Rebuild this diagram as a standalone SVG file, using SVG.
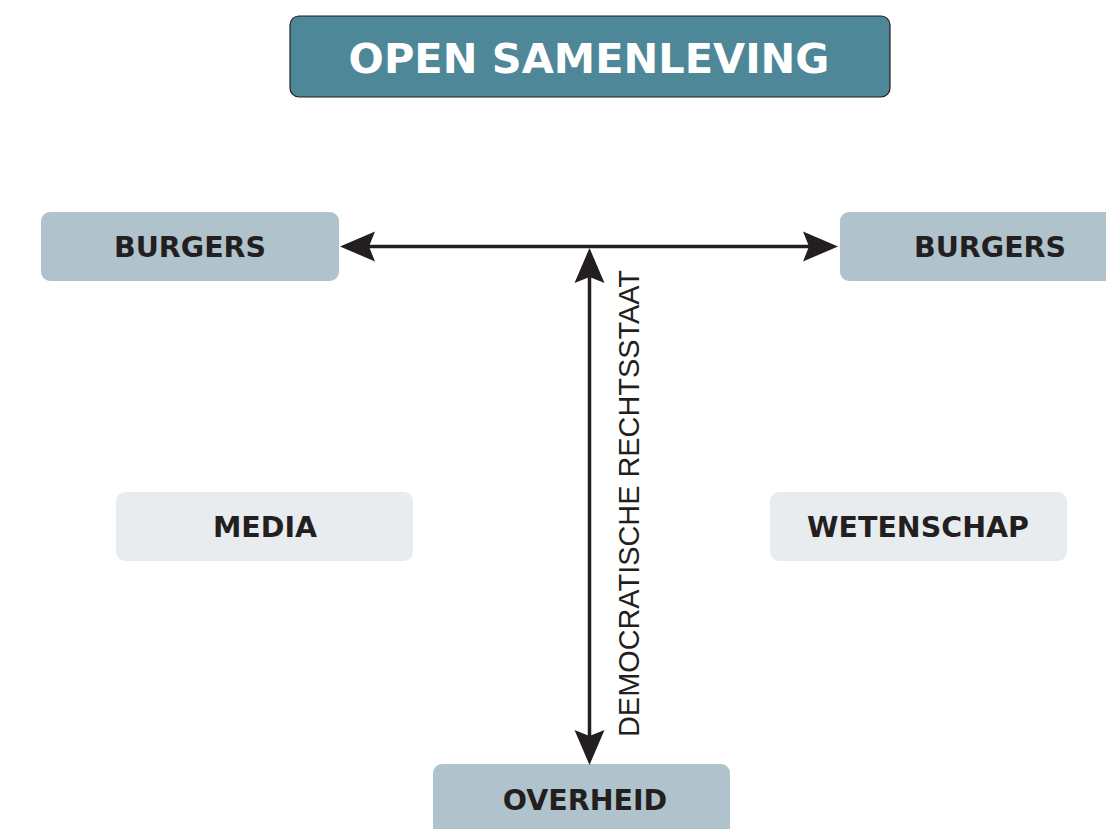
<svg xmlns="http://www.w3.org/2000/svg" width="1106" height="829" viewBox="0 0 1106 829">
  <style>
    .lbl { font-family: "DejaVu Sans", Verdana, sans-serif; font-weight: bold; font-size: 28.5px; fill: #231f20; text-anchor: middle; }
    .title { font-family: "DejaVu Sans", Verdana, sans-serif; font-weight: bold; font-size: 41.5px; fill: #ffffff; text-anchor: middle; }
    .dark { fill: #b0c3cc; }
    .light { fill: #e8ecef; }
    .conn { stroke: #231f20; stroke-width: 3.5; fill: none; }
    .vtext { font-family: "Liberation Sans", Arial, sans-serif; font-size: 30px; fill: #231f20; text-anchor: middle; }
  </style>
  <defs>
    <marker id="arr" markerUnits="userSpaceOnUse" viewBox="-31 -16 37 32" refX="0" refY="0" markerWidth="37" markerHeight="32" orient="auto-start-reverse">
      <path d="M5,0 L-30,-15 L-24,0 L-30,15 Z" fill="#231f20"/>
    </marker>
  </defs>
  <rect width="1106" height="829" fill="#ffffff"/>

  <g id="title">
    <rect x="290" y="16" width="600" height="81" rx="9" fill="#4e8797" stroke="#231f20" stroke-width="1.2"/>
    <text class="title" x="589" y="73">OPEN SAMENLEVING</text>
  </g>

  <g id="burgers-left">
    <rect class="dark" x="41" y="212" width="298" height="69" rx="9"/>
    <text class="lbl" x="190" y="257">BURGERS</text>
  </g>

  <g id="burgers-right">
    <rect class="dark" x="840" y="212" width="290" height="69" rx="9"/>
    <text class="lbl" x="990" y="257">BURGERS</text>
  </g>

  <g id="media">
    <rect class="light" x="116" y="492" width="297" height="69" rx="9"/>
    <text class="lbl" x="265" y="537">MEDIA</text>
  </g>

  <g id="wetenschap">
    <rect class="light" x="770" y="492" width="297" height="69" rx="9"/>
    <text class="lbl" x="918" y="537">WETENSCHAP</text>
  </g>

  <g id="overheid">
    <rect class="dark" x="433" y="764" width="297" height="80" rx="9"/>
    <text class="lbl" x="585" y="810">OVERHEID</text>
  </g>

  <g id="connectors">
    <line class="conn" x1="345" y1="246.5" x2="833" y2="246.5" marker-start="url(#arr)" marker-end="url(#arr)"/>
    <line class="conn" x1="589.5" y1="253" x2="589.5" y2="760" marker-start="url(#arr)" marker-end="url(#arr)"/>
    <text class="vtext" transform="translate(639,503.5) rotate(-90)" x="0" y="0" textLength="467" lengthAdjust="spacingAndGlyphs">DEMOCRATISCHE RECHTSSTAAT</text>
  </g>
</svg>
